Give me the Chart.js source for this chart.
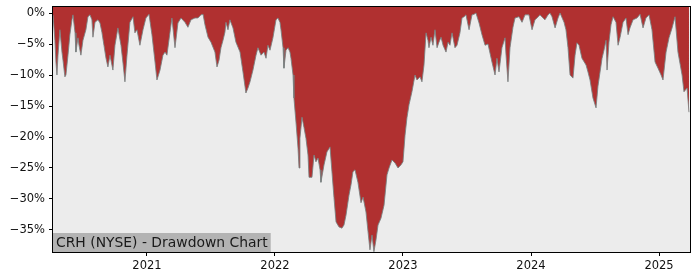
<!DOCTYPE html>
<html>
<head>
<meta charset="utf-8">
<script src="https://cdn.jsdelivr.net/npm/chart.js@4"></script>
<style>
  body { margin: 0; background: #fff; }
  canvas { display: block; }
</style>
</head>
<body>
<canvas id="chart" width="700" height="280"></canvas>
<script>
// dates as decimal years, drawdown in percent
const dates = [
  2020.266, 2020.281, 2020.289, 2020.297, 2020.305, 2020.320, 2020.336, 2020.344, 2020.359, 2020.367,
  2020.383, 2020.398, 2020.414, 2020.422, 2020.438, 2020.445, 2020.461, 2020.469, 2020.484, 2020.500,
  2020.523, 2020.539, 2020.555, 2020.570, 2020.578, 2020.594, 2020.617, 2020.633, 2020.648, 2020.664,
  2020.680, 2020.695, 2020.711, 2020.734, 2020.750, 2020.773, 2020.797, 2020.813, 2020.828, 2020.844,
  2020.867, 2020.891, 2020.906, 2020.922, 2020.945, 2020.969, 2020.992, 2021.016, 2021.039, 2021.063,
  2021.078, 2021.102,
  2021.125, 2021.141, 2021.156, 2021.180, 2021.195, 2021.219, 2021.242, 2021.266, 2021.297, 2021.320,
  2021.344, 2021.375, 2021.398, 2021.422, 2021.438, 2021.453, 2021.477, 2021.500, 2021.531, 2021.547,
  2021.563, 2021.578, 2021.594, 2021.609, 2021.617, 2021.633, 2021.648, 2021.672, 2021.695, 2021.727,
  2021.750, 2021.773, 2021.789, 2021.805, 2021.828, 2021.852, 2021.867, 2021.891, 2021.914, 2021.930,
  2021.945,
  2021.961, 2021.984, 2022.008, 2022.023, 2022.039, 2022.047, 2022.063, 2022.070, 2022.086, 2022.102,
  2022.117, 2022.125, 2022.141, 2022.148, 2022.164, 2022.180, 2022.188, 2022.195, 2022.211, 2022.227,
  2022.242, 2022.258, 2022.266, 2022.289, 2022.305, 2022.320, 2022.336, 2022.352, 2022.359, 2022.383,
  2022.406, 2022.430, 2022.445, 2022.461, 2022.477, 2022.500, 2022.523, 2022.539, 2022.555, 2022.578,
  2022.594, 2022.609, 2022.625, 2022.648, 2022.672, 2022.688, 2022.711, 2022.727, 2022.742, 2022.758,
  2022.773, 2022.789,
  2022.805, 2022.828, 2022.852, 2022.875, 2022.891, 2022.914, 2022.938, 2022.961, 2022.984, 2023.000,
  2023.016, 2023.031, 2023.047, 2023.070, 2023.094, 2023.109, 2023.133, 2023.148, 2023.164, 2023.180,
  2023.195, 2023.203, 2023.219, 2023.234, 2023.250, 2023.266, 2023.281, 2023.297, 2023.313, 2023.336,
  2023.352, 2023.367, 2023.383, 2023.406, 2023.422, 2023.445, 2023.461, 2023.477, 2023.492, 2023.516,
  2023.539, 2023.555, 2023.570, 2023.594, 2023.617,
  2023.641, 2023.664, 2023.695, 2023.719, 2023.734, 2023.750, 2023.773, 2023.797, 2023.805, 2023.820,
  2023.836, 2023.859, 2023.875, 2023.906, 2023.930, 2023.953, 2023.984, 2024.008, 2024.031, 2024.047,
  2024.070, 2024.094, 2024.109, 2024.133, 2024.148, 2024.164, 2024.188, 2024.211, 2024.227, 2024.258,
  2024.273, 2024.289, 2024.305, 2024.328, 2024.344, 2024.359, 2024.375, 2024.398, 2024.430, 2024.445,
  2024.461,
  2024.484, 2024.508, 2024.523, 2024.555, 2024.570, 2024.586, 2024.594, 2024.609, 2024.625, 2024.641,
  2024.664, 2024.680, 2024.695, 2024.719, 2024.742, 2024.758, 2024.773, 2024.797, 2024.828, 2024.852,
  2024.875, 2024.898, 2024.922, 2024.945, 2024.969, 2024.992, 2025.016, 2025.031, 2025.055, 2025.078,
  2025.102, 2025.125, 2025.148, 2025.180, 2025.195, 2025.219, 2025.234
];

const drawdown = [
  -0.3, -4.4, -7.9, -10.0, -6.8, -2.7, -6.3, -7.6, -10.3, -10.0,
  -6.8, -3.5, -1.1, -0.3, -3.2, -6.3, -4.0, -5.2, -6.8, -4.4,
  -2.7, -0.6, -0.3, -1.1, -3.9, -1.5, -1.1, -1.6, -3.1, -5.2,
  -7.3, -8.7, -6.8, -9.2, -5.2, -2.4, -5.2, -8.1, -11.1, -6.8,
  -1.5, -0.6, -3.2, -2.7, -5.2, -2.7, -0.8, -0.2, -3.5, -7.9,
  -10.8, -9.2,
  -6.8, -6.3, -6.8, -3.1, -0.8, -5.6, -1.6, -0.8, -1.5, -2.3,
  -1.1, -0.8, -0.8, -0.3, -0.2, -1.9, -3.9, -4.7, -6.3, -8.7,
  -7.6, -5.6, -4.4, -3.1, -1.5, -2.7, -1.1, -2.4, -4.7, -6.3,
  -9.5, -12.9, -12.1, -11.1, -9.2, -6.8, -5.6, -6.8, -6.3, -7.3,
  -5.2,
  -6.0, -4.0, -1.1, -0.8, -1.5, -2.7, -5.6, -8.9, -6.0, -5.6,
  -6.3, -7.3, -10.0, -13.7, -17.6, -21.8, -25.0, -20.2, -16.8, -18.5,
  -20.2, -22.9, -26.5, -26.5, -22.9, -24.0, -23.4, -25.3, -27.3, -24.5,
  -22.4, -21.6, -25.6, -29.8, -33.7, -34.5, -34.7, -34.2, -32.6, -29.4,
  -27.7, -25.6, -25.3, -27.3, -30.6, -29.7, -32.1, -35.3, -38.2, -35.8,
  -38.5, -36.6,
  -34.2, -33.1, -31.0, -26.1, -25.0, -23.7, -24.2, -25.0, -24.5, -24.0,
  -19.7, -16.9, -14.8, -12.7, -10.0, -10.8, -10.3, -11.1, -8.4, -3.2,
  -4.4, -5.6, -3.9, -5.2, -2.7, -5.6, -4.7, -3.9, -5.2, -6.3,
  -4.7, -5.2, -3.2, -5.6, -5.2, -3.2, -0.8, -0.6, -0.3, -2.7,
  -0.3, -0.2, 0.0, -1.6, -3.5,
  -5.2, -5.0, -7.9, -10.0, -7.3, -9.5, -5.6, -4.0, -6.8, -11.1,
  -5.6, -2.3, -0.8, -0.6, -1.5, -0.3, -0.3, -2.7, -1.1, -0.8,
  -0.3, -0.8, -1.1, -0.3, 0.0, -0.6, -2.4, -0.8, 0.0, -1.5,
  -2.7, -5.6, -10.0, -10.5, -6.8, -4.8, -5.2, -7.3, -8.4, -9.5,
  -10.8,
  -13.7, -15.3, -11.8, -7.3, -6.0, -4.4, -9.2, -4.7, -1.9, -0.6,
  -1.5, -5.2, -4.0, -1.5, -0.8, -3.5, -2.4, -1.1, -0.8, -0.2,
  -2.4, -0.8, -0.3, -2.7, -7.9, -8.9, -10.0, -10.8, -6.3, -4.0,
  -2.4, -0.6, -6.3, -10.0, -12.7, -12.1, -16.0
];

const yearTicks = [2021, 2022, 2023, 2024, 2025];
const pctTicks = [0, -5, -10, -15, -20, -25, -30, -35];
const xRange = [2020.266, 2025.242];
const yRange = [-38.55, 0.97];
const label = 'CRH (NYSE) - Drawdown Chart';

Chart.defaults.font.family = 'DejaVu Sans';
Chart.defaults.font.size = 11.5;
Chart.defaults.color = '#111';

const plotBox = {
  id: 'plotBox',
  beforeDatasetsDraw(chart) {
    const a = chart.chartArea, ctx = chart.ctx;
    ctx.save();
    ctx.fillStyle = '#ececec';
    ctx.fillRect(a.left, a.top, a.right - a.left, a.bottom - a.top);
    ctx.restore();
  },
  afterDatasetsDraw(chart) {
    const a = chart.chartArea, ctx = chart.ctx;
    ctx.save();
    ctx.font = '13.9px "DejaVu Sans"';
    const w = ctx.measureText(label).width;
    ctx.fillStyle = '#b3b3b3';
    ctx.fillRect(a.left, a.bottom - 19, w + 6, 19);
    ctx.fillStyle = '#1a1a1a';
    ctx.textBaseline = 'alphabetic';
    ctx.fillText(label, a.left + 3, a.bottom - 5);
    ctx.restore();
  },
  afterDraw(chart) {
    const a = chart.chartArea, ctx = chart.ctx;
    ctx.save();
    ctx.strokeStyle = '#000';
    ctx.lineWidth = 1;
    ctx.strokeRect(Math.round(a.left) - 0.5, Math.round(a.top) - 0.5,
      Math.round(a.right - a.left) + 1, Math.round(a.bottom - a.top) + 1);
    ctx.restore();
  }
};

new Chart(document.getElementById('chart'), {
  type: 'line',
  data: {
    datasets: [{
      data: dates.map((d, i) => ({ x: d, y: drawdown[i] })),
      fill: 'end',
      backgroundColor: '#b03030',
      borderColor: 'rgba(120,128,128,0.85)',
      borderWidth: 1,
      pointRadius: 0,
      tension: 0
    }]
  },
  plugins: [plotBox],
  options: {
    responsive: false,
    animation: false,
    devicePixelRatio: 1,
    layout: { padding: { top: 7, right: 10, left: 0, bottom: 0 } },
    plugins: { legend: { display: false }, tooltip: { enabled: false } },
    scales: {
      x: {
        type: 'linear',
        min: xRange[0],
        max: xRange[1],
        afterBuildTicks: s => { s.ticks = yearTicks.map(v => ({ value: v })); },
        afterFit: s => { s.height = 28; s.paddingLeft = 0; s.paddingRight = 0; },
        ticks: { padding: 3, autoSkip: false, maxRotation: 0, callback: v => String(v) },
        grid: { drawOnChartArea: false, drawTicks: true, tickLength: 4, color: '#000' },
        border: { display: false }
      },
      y: {
        type: 'linear',
        min: yRange[0],
        max: yRange[1],
        afterBuildTicks: s => { s.ticks = pctTicks.map(v => ({ value: v })); },
        afterFit: s => { s.width = 53; s.paddingTop = 0; s.paddingBottom = 0; },
        ticks: {
          padding: 4,
          autoSkip: false,
          callback: v => (v === 0 ? '0%' : '\u2212' + Math.abs(v) + '%')
        },
        grid: { drawOnChartArea: false, drawTicks: true, tickLength: 4, color: '#000' },
        border: { display: false }
      }
    }
  }
});
</script>
</body>
</html>
